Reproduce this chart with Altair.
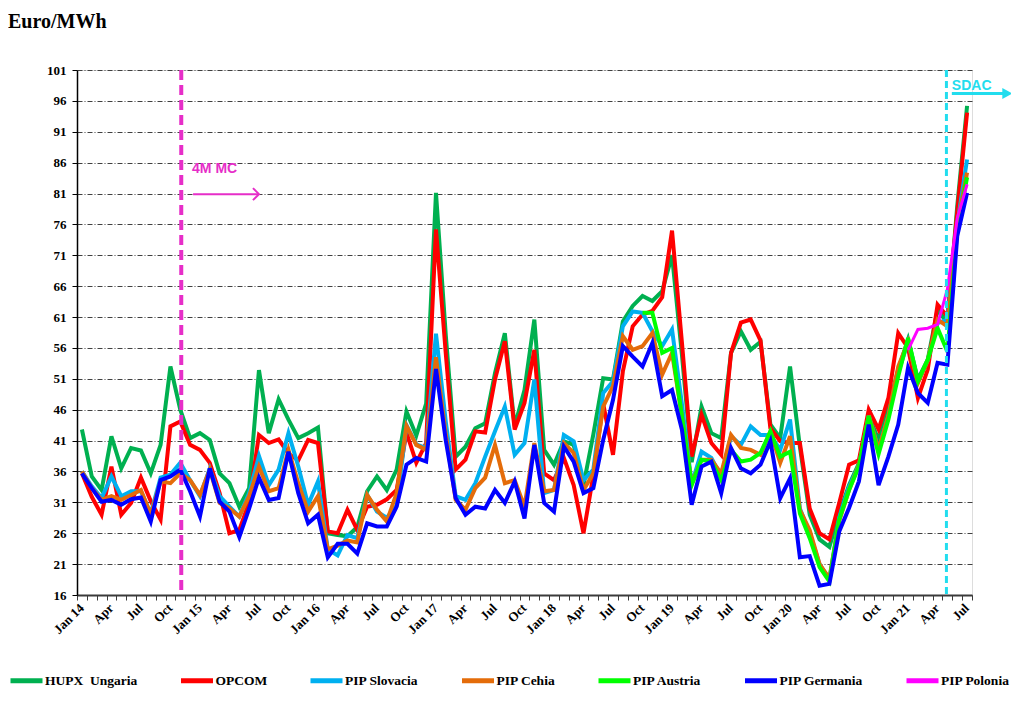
import altair as alt
import pandas as pd

# ---------------- data (monthly, Jan 2014 .. Jul 2021) ----------------
tick_labels = ["Jan 14", "Apr", "Jul", "Oct", "Jan 15", "Apr", "Jul", "Oct",
               "Jan 16", "Apr", "Jul", "Oct", "Jan 17", "Apr", "Jul", "Oct",
               "Jan 18", "Apr", "Jul", "Oct", "Jan 19", "Apr", "Jul", "Oct",
               "Jan 20", "Apr", "Jul", "Oct", "Jan 21", "Apr", "Jul"]

hupx = [42.8, 35.2, 33.0, 41.7, 36.5, 39.8, 39.4, 35.7, 40.3, 53.0,
        46.0, 41.4, 42.2, 41.1, 35.7, 34.1, 30.3, 33.3, 52.4, 42.2,
        47.7, 44.4, 41.4, 42.2, 43.1, 26.0, 25.7, 25.5, 27.0, 32.8,
        35.2, 33.0, 36.3, 45.7, 41.8, 47.0, 81.1, 58.0, 38.4, 40.0,
        43.0, 43.8, 51.9, 58.4, 43.3, 49.2, 60.6, 39.5, 37.1, 40.9,
        40.3, 33.8, 42.0, 51.1, 50.9, 60.3, 62.8, 64.4, 63.6, 65.2,
        71.0, 55.0, 37.5, 46.5, 42.2, 41.4, 55.2, 58.7, 55.7, 57.0,
        43.6, 41.4, 53.0, 40.0, 29.0, 25.0, 23.8, 29.2, 33.8, 37.3,
        45.0, 41.1, 46.5, 52.5, 57.4, 50.9, 54.1, 62.2, 60.0, 79.0,
        95.2]

opcom = [35.7, 31.9, 29.0, 36.8, 29.0, 30.9, 35.0, 31.2, 28.2, 43.3,
         44.1, 40.3, 39.5, 37.4, 32.5, 26.0, 26.5, 31.0, 41.9, 40.6,
         41.2, 38.9, 37.8, 41.1, 40.6, 26.3, 26.0, 29.8, 26.5, 30.3,
         30.6, 31.5, 33.0, 42.3, 37.4, 40.6, 75.2, 55.0, 36.3, 37.9,
         42.5, 42.3, 50.9, 57.1, 42.8, 47.1, 55.7, 35.7, 34.6, 38.2,
         33.8, 26.0, 35.4, 47.0, 38.7, 52.2, 59.5, 61.4, 62.0, 64.2,
         75.0, 57.0, 38.4, 45.2, 40.6, 38.7, 55.2, 60.1, 60.6, 57.2,
         43.0, 40.9, 40.6, 40.6, 30.0, 26.0, 25.0, 30.9, 37.1, 37.8,
         46.0, 42.8, 47.9, 58.4, 56.0, 47.9, 52.5, 63.0, 61.1, 78.0,
         94.1]

slovacia = [36.0, 33.6, 31.7, 35.2, 32.0, 32.8, 32.8, 29.2, 35.0, 35.5,
            37.4, 34.6, 32.0, 36.5, 32.0, 30.3, 28.7, 32.5, 38.5, 33.8,
            36.3, 42.2, 36.8, 30.6, 34.4, 23.4, 22.4, 25.7, 25.2, 32.2,
            29.5, 28.5, 30.5, 43.5, 40.4, 39.8, 58.3, 44.0, 32.0, 31.4,
            34.1, 38.4, 42.5, 46.5, 38.7, 40.6, 50.9, 32.5, 33.0, 41.9,
            40.9, 34.6, 36.3, 48.7, 50.6, 59.5, 61.9, 61.7, 58.7, 56.3,
            59.0, 47.0, 34.0, 39.2, 38.2, 35.2, 41.7, 40.3, 43.3, 41.9,
            41.9, 39.5, 44.4, 30.0, 26.0, 21.0, 18.5, 28.5, 33.5, 37.0,
            45.0, 39.5, 45.0, 52.0, 57.0, 50.5, 54.0, 60.0, 60.6, 76.0,
            86.5]

cehia = [36.0, 33.3, 31.4, 32.0, 31.4, 32.2, 33.0, 29.0, 34.4, 34.1,
         35.7, 34.6, 32.2, 36.3, 30.9, 30.0, 28.7, 32.0, 36.8, 32.8,
         33.3, 39.5, 34.1, 29.5, 32.0, 23.4, 24.0, 24.8, 24.5, 32.2,
         29.8, 27.9, 32.5, 43.4, 40.3, 39.5, 54.5, 42.0, 31.4, 29.8,
         33.3, 35.0, 40.3, 34.1, 34.6, 30.3, 40.6, 32.8, 33.0, 40.6,
         39.0, 33.0, 35.7, 46.5, 49.8, 57.9, 55.7, 56.3, 58.4, 51.7,
         55.2, 45.0, 34.0, 37.9, 37.9, 35.7, 41.9, 39.8, 39.5, 38.7,
         42.5, 37.4, 41.7, 29.8, 26.5, 21.0, 18.7, 28.0, 33.0, 37.0,
         45.0, 39.5, 45.0, 53.0, 57.0, 50.3, 54.0, 60.6, 59.5, 76.0,
         84.4]

austria = [None] * 57 + [
    61.7, 61.7, 55.2, 56.0, 45.0, 33.8, 37.9, 37.6, 34.6, 39.5,
    37.6, 37.9, 39.0, 42.5, 38.4, 39.2, 29.2, 25.2, 20.5, 18.2,
    28.2, 33.0, 36.8, 45.0, 38.8, 44.4, 51.4, 57.6, 50.6, 54.1,
    59.2, 55.4, 75.0, 83.6]

germania = [35.7, 33.3, 31.1, 31.4, 30.6, 31.5, 31.8, 27.9, 34.6, 35.2,
            36.3, 32.8, 28.7, 36.5, 31.1, 29.5, 25.4, 30.0, 35.0, 31.4,
            31.7, 39.2, 32.5, 27.6, 29.0, 22.1, 24.3, 24.3, 22.7, 27.6,
            27.1, 27.1, 30.3, 37.1, 38.2, 37.6, 52.6, 41.0, 31.7, 29.0,
            30.3, 30.0, 33.0, 30.9, 34.4, 28.4, 40.3, 30.9, 29.5, 40.0,
            37.6, 32.5, 33.3, 41.1, 47.6, 56.3, 54.6, 53.0, 56.8, 48.2,
            49.2, 42.8, 30.6, 36.8, 37.6, 32.5, 39.8, 36.5, 35.7, 37.1,
            40.9, 31.7, 34.9, 22.1, 22.3, 17.5, 17.8, 26.3, 30.1, 34.4,
            43.6, 33.8, 38.4, 43.6, 52.8, 48.7, 47.1, 53.6, 53.3, 74.1,
            81.1]

polonia = [None] * 84 + [55.7, 59.0, 59.2, 59.8, 65.5, 77.0, 82.5]

series_names = ["HUPX\u00a0 Ungaria", "OPCOM", "PIP Slovacia", "PIP Cehia",
                "PIP Austria", "PIP Germania", "PIP Polonia"]
series_values = [hupx, opcom, slovacia, cehia, austria, germania, polonia]
series_colors = ["#00B050", "#FF0000", "#00B0F0", "#E46C0A",
                 "#00FF00", "#0000FF", "#FF00FF"]
series_widths = [4, 4, 4, 4, 4, 4, 3]

# annotations (month index / value positions)
mc_month = 10.1          # 4M MC start line
sdac_month = 87.9        # SDAC line
mc_text = ["4M MC"]
sdac_text = ["SDAC"]

MAG = "#E62EC8"
CYAN = "#22DDEE"

W, H = 895, 525

# ---------------- build tables ----------------
rows = []
for name, vals in zip(series_names, series_values):
    for i, v in enumerate(vals):
        if v is not None:
            rows.append({"s": name, "m": i, "v": v})
df = pd.DataFrame(rows)

lab_df = pd.DataFrame({"m": list(range(0, 91, 3)), "lab": tick_labels})

x_scale = alt.Scale(domain=[-0.5, 90.5], nice=False, zero=False)
y_scale = alt.Scale(domain=[16, 101], nice=False, zero=False)

x_axis = alt.Axis(values=[k - 0.5 for k in range(92)], labels=False, ticks=True,
                  tickSize=5, tickColor="#3a3a3a", tickWidth=1,
                  domainColor="#3a3a3a", domainWidth=2, grid=False, title=None)
y_axis = alt.Axis(values=list(range(16, 102, 5)), title=None,
                  labelFont="Liberation Serif", labelFontSize=13,
                  labelFontWeight="bold", labelColor="black", labelPadding=6,
                  tickSize=5, tickColor="black", domainColor="black",
                  domainWidth=1.5, grid=True, gridColor="#404040",
                  gridDash=[5, 2, 1, 2], gridWidth=1)

X = alt.X("m:Q", scale=x_scale, axis=x_axis)
Y = alt.Y("v:Q", scale=y_scale, axis=y_axis)

legend = alt.Legend(title=None, orient="none", legendX=-69, legendY=592,
                    direction="horizontal", symbolType="stroke",
                    symbolStrokeWidth=5, symbolSize=1024, columnPadding=32.5,
                    labelOffset=0, padding=0,
                    labelFont="Liberation Serif", labelFontSize=13.5,
                    labelFontWeight="bold", labelColor="black", labelLimit=300)
C = alt.Color("s:N", scale=alt.Scale(domain=series_names, range=series_colors),
              legend=legend)

layers = []
for name, w in zip(series_names, series_widths):
    layers.append(
        alt.Chart(df)
        .transform_filter(alt.FieldEqualPredicate(field="s", equal=name))
        .mark_line(strokeWidth=w)
        .encode(x=X, y=Y, color=C)
    )

# vertical event lines
layers.append(
    alt.Chart(pd.DataFrame({"m": [mc_month]}))
    .mark_rule(color=MAG, strokeWidth=4, strokeDash=[10, 5])
    .encode(x=X, y=alt.value(0), y2=alt.value(H))
)
layers.append(
    alt.Chart(pd.DataFrame({"m": [sdac_month]}))
    .mark_rule(color=CYAN, strokeWidth=3, strokeDash=[7, 4])
    .encode(x=X, y=alt.value(0), y2=alt.value(H))
)

# 4M MC annotation
mc_arrow = pd.DataFrame({"m": [11.3], "m2": [17.9], "v": [80.9]})
layers.append(alt.Chart(mc_arrow).mark_rule(color=MAG, strokeWidth=2)
              .encode(x=X, x2="m2:Q", y=Y))
layers.append(alt.Chart(pd.DataFrame({"m": [18.0], "v": [80.9]}))
              .mark_point(shape="M-1,-1L0,0L-1,1", size=144, filled=False,
                          color=MAG, strokeWidth=2, opacity=1)
              .encode(x=X, y=Y))
layers.append(alt.Chart(pd.DataFrame({"m": [11.2], "v": [84.4], "t": mc_text}))
              .mark_text(align="left", baseline="alphabetic", color=MAG,
                         font="Liberation Sans", fontSize=14, fontWeight="bold")
              .encode(x=X, y=Y, text="t:N"))

# SDAC annotation
sd_arrow = pd.DataFrame({"m": [88.45], "m2": [93.8], "v": [97.2]})
layers.append(alt.Chart(sd_arrow).mark_rule(color=CYAN, strokeWidth=3)
              .encode(x=X, x2="m2:Q", y=Y))
layers.append(alt.Chart(pd.DataFrame({"m": [94.6], "v": [97.2]}))
              .mark_point(shape="M-1,-0.55L0,0L-1,0.55Z", size=400, filled=True,
                          color=CYAN, opacity=1)
              .encode(x=X, y=Y))
layers.append(alt.Chart(pd.DataFrame({"m": [88.45], "v": [97.8], "t": sdac_text}))
              .mark_text(align="left", baseline="alphabetic", color=CYAN,
                         font="Liberation Sans", fontSize=14, fontWeight="bold")
              .encode(x=X, y=Y, text="t:N"))

# month labels
layers.append(alt.Chart(lab_df)
              .mark_text(angle=315, align="right", baseline="middle",
                         font="Liberation Serif", fontSize=13, fontWeight="bold",
                         color="black")
              .encode(x=X, y=alt.value(H + 11), text="lab:N"))

# unit title
layers.append(alt.Chart(pd.DataFrame({"t": ["Euro/MWh"]}))
              .mark_text(align="left", baseline="alphabetic",
                         font="Liberation Serif", fontSize=20, fontWeight="bold",
                         color="black")
              .encode(x=alt.value(-69), y=alt.value(-42), text="t:N"))

chart = (
    alt.layer(*layers)
    .properties(width=W, height=H,
                padding={"left": 69, "top": 62, "right": 39, "bottom": 95},
                autosize=alt.AutoSizeParams(type="none"))
    .configure_view(stroke="#8a8a8a", strokeWidth=1.5)
    .configure(background="white")
)

chart.save("out.html", embed_options={"renderer": "svg", "actions": False})
